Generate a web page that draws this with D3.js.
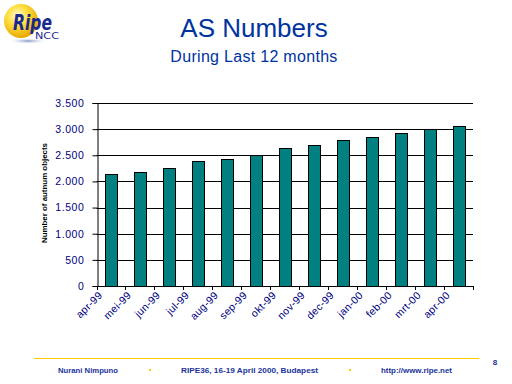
<!DOCTYPE html>
<html><head><meta charset="utf-8">
<script src="https://cdn.jsdelivr.net/npm/d3@7"></script>
<style>body{margin:0;background:#fff}svg{display:block;font-family:Arial,"Liberation Sans",sans-serif}</style>
</head><body>
<script>
const categories = ["apr-99","mei-99","jun-99","jul-99","aug-99","sep-99","okt-99","nov-99","dec-99","jan-00","feb-00","mrt-00","apr-00"];
const values = [2140,2178,2255,2389,2427,2504,2638,2695,2791,2849,2925,3002,3059];
const yTicks = [0,500,1000,1500,2000,2500,3000,3500];
const footerItems = ["Nurani Nimpuno","RIPE36, 16-19 April 2000, Budapest","http://www.ripe.net"];

const W=512,H=384;
const svg=d3.select("body").append("svg").attr("width",W).attr("height",H);
const defs=svg.append("defs");
const rg=defs.append("radialGradient").attr("id","sun").attr("cx","40%").attr("cy","35%").attr("r","65%");
rg.append("stop").attr("offset","0%").attr("stop-color","#fffbe0");
rg.append("stop").attr("offset","45%").attr("stop-color","#ffe040");
rg.append("stop").attr("offset","100%").attr("stop-color","#e8a800");
const sg=defs.append("radialGradient").attr("id","shadow");
sg.append("stop").attr("offset","0%").attr("stop-color","#8090c0");
sg.append("stop").attr("offset","100%").attr("stop-color","#ffffff").attr("stop-opacity",0);

// Logo
svg.append("ellipse").attr("cx",28).attr("cy",41).attr("rx",20).attr("ry",3).attr("fill","url(#shadow)");
svg.append("circle").attr("cx",21).attr("cy",21).attr("r",17).attr("fill","url(#sun)");
svg.append("text").attr("x",13).attr("y",30).attr("font-size",21).attr("font-weight","bold").attr("font-style","italic").attr("fill","#1a2a8c").attr("font-family","Verdana,'DejaVu Sans',sans-serif").attr("textLength",39).attr("lengthAdjust","spacingAndGlyphs").text("Ripe");
svg.append("text").attr("x",35).attr("y",39).attr("font-size",8).attr("fill","#1a2a8c").attr("font-family","Verdana,'DejaVu Sans',sans-serif").attr("textLength",24).attr("lengthAdjust","spacingAndGlyphs").text("NCC");

// Titles
svg.append("text").attr("x",254).attr("y",37).attr("text-anchor","middle").attr("font-size",26).attr("fill","#0033a0").text("AS Numbers");
svg.append("text").attr("x",254).attr("y",62).attr("text-anchor","middle").attr("font-size",16).attr("fill","#0033a0").attr("letter-spacing",0.3).text("During Last 12 months");

// Chart
const m={l:96.5,r:473,t:103,b:286};
const x=d3.scaleBand().domain(categories).range([m.l,m.r]).paddingInner(0.59).paddingOuter(0.295);
const xb=d3.scaleBand().domain(categories).range([m.l,m.r]);
const y=d3.scaleLinear().domain([0,3500]).range([m.b,m.t]);

const g=svg.append("g");
// gridlines
g.selectAll("line.grid").data(yTicks.filter(d=>d>0)).join("line")
 .attr("x1",m.l).attr("x2",m.r).attr("y1",d=>Math.round(y(d))+0.5).attr("y2",d=>Math.round(y(d))+0.5)
 .attr("stroke","#000").attr("stroke-width",1);

// bars
g.selectAll("rect.bar").data(values).join("rect")
 .attr("x",(d,i)=>Math.round(x(categories[i]))+0.5).attr("width",Math.round(x.bandwidth()))
 .attr("y",d=>Math.round(y(d))+0.5).attr("height",d=>Math.round(y(0))-Math.round(y(d)))
 .attr("fill","#008080").attr("stroke","#000").attr("stroke-width",1);

// y axis
const ya=svg.append("g").attr("transform",`translate(${Math.round(m.l)+0.5},0)`)
 .call(d3.axisLeft(y).tickValues(yTicks).tickSize(5).tickPadding(8).tickFormat(d=>d3.format(",")(d).replace(/,/g,".")));
ya.select(".domain").attr("stroke","#000");
ya.selectAll(".tick line").attr("stroke","#000");
ya.selectAll("text").attr("font-size",10.5).attr("fill","#000080").attr("font-family","Arial,'Liberation Sans',sans-serif").attr("letter-spacing",0.6);

// x axis
svg.append("line").attr("x1",m.l).attr("x2",m.r+1).attr("y1",Math.round(m.b)+0.5).attr("y2",Math.round(m.b)+0.5).attr("stroke","#000");
const bounds=categories.map(c=>xb(c)).concat([m.r]);
svg.selectAll("line.xt").data(bounds).join("line")
 .attr("x1",d=>Math.round(d)+0.5).attr("x2",d=>Math.round(d)+0.5)
 .attr("y1",Math.round(m.b)).attr("y2",Math.round(m.b)+4).attr("stroke","#000");
svg.selectAll("text.xl").data(categories).join("text")
 .attr("transform",d=>`translate(${xb(d)+xb.bandwidth()/2-8},${m.b+10}) rotate(-45)`)
 .attr("text-anchor","end").attr("font-size",10.5).attr("fill","#000080").attr("letter-spacing",0.3).text(d=>d);

// y title
svg.append("text").attr("transform",`translate(47,193) rotate(-90)`).attr("text-anchor","middle")
 .attr("font-size",6.5).attr("font-weight","bold").attr("fill","#000").attr("textLength",100).attr("lengthAdjust","spacingAndGlyphs").text("Number of autnum objects");

// footer
svg.append("line").attr("x1",34).attr("x2",479).attr("y1",358.5).attr("y2",358.5).attr("stroke","#ffcc00").attr("stroke-width",1);
const fx=[[58,118],[181,318],[381,452]];
svg.selectAll("text.ft").data(footerItems).join("text")
 .attr("x",(d,i)=>fx[i][0]).attr("y",373).attr("font-size",8).attr("font-weight","bold").attr("fill","#1a3399")
 .attr("textLength",(d,i)=>fx[i][1]-fx[i][0]).attr("lengthAdjust","spacingAndGlyphs").text(d=>d);
svg.selectAll("rect.bul").data([150,350]).join("rect").attr("x",d=>d-1).attr("y",369).attr("width",2).attr("height",2).attr("fill","#ffcc00");
svg.append("text").attr("x",495).attr("y",365).attr("text-anchor","middle").attr("font-size",8).attr("font-weight","bold").attr("fill","#1a3399").text("8");
</script>
</body></html>
